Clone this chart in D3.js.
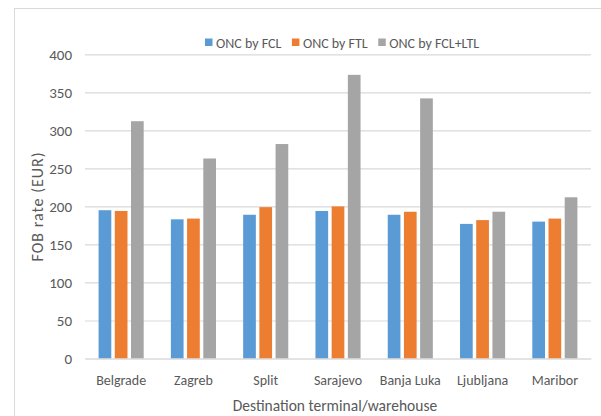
<!DOCTYPE html>
<html>
<head>
<meta charset="utf-8">
<script src="https://cdn.jsdelivr.net/npm/d3@7"></script>
<style>
  html, body { margin: 0; padding: 0; background: #fff; }
  svg { display: block; }
  text { font-family: Carlito, Lato, "Open Sans", sans-serif; fill: #595959; }
</style>
</head>
<body>
<svg id="chart" width="601" height="416"></svg>
<script>
// Destinations along the x axis
const categories = ["Belgrade", "Zagreb", "Split", "Sarajevo", "Banja Luka", "Ljubljana", "Maribor"];
// Series names shown in the legend
const seriesNames = ["ONC by FCL", "ONC by FTL", "ONC by FCL+LTL"];
// FOB rate (EUR) per destination for each series
const fcl    = [195, 183, 189, 194, 189, 177, 180];
const ftl    = [194, 184, 199, 200, 193, 182, 184];
const fclLtl = [312, 263, 282, 373, 342, 193, 212];
const yTicks = [0, 50, 100, 150, 200, 250, 300, 350, 400];
const colors = ["#5b9bd5", "#ed7d31", "#a5a5a5"];

const FONT = 'Carlito, Lato, "Open Sans", sans-serif';

const seriesValues = [fcl, ftl, fclLtl];
const rows = categories.map((c, i) => ({
  category: c,
  values: seriesNames.map((s, k) => ({ series: s, value: seriesValues[k][i], color: colors[k] }))
}));

const svg = d3.select("#chart");

// Chart area frame
svg.append("rect")
  .attr("x", 14.5).attr("y", 8.5)
  .attr("width", 620).attr("height", 430)
  .attr("fill", "none").attr("stroke", "#d9d9d9").attr("stroke-width", 1);

const plot = { left: 85, right: 591, top: 54.3, bottom: 358.5 };

const x0 = d3.scaleBand().domain(categories)
  .range([plot.left, plot.right]).paddingInner(0.376).paddingOuter(0.188);
const x1 = d3.scaleBand().domain(seriesNames)
  .range([0, x0.bandwidth()]).paddingInner(0.216).paddingOuter(0);
const y = d3.scaleLinear().domain([0, 400]).range([plot.bottom, plot.top]);

// Horizontal gridlines and value labels
const yAxis = d3.axisLeft(y).tickValues(yTicks)
  .tickSize(-(plot.right - plot.left)).tickPadding(13).tickFormat(d3.format("d"));
const gy = svg.append("g").attr("transform", `translate(${plot.left},0)`).call(yAxis);
gy.select(".domain").remove();
gy.selectAll(".tick line").attr("stroke", "#d9d9d9").attr("stroke-width", 1.2);
gy.selectAll(".tick text").attr("font-size", 15).attr("fill", "#595959")
  .style("font-family", FONT);

// Bars
const groups = svg.append("g").selectAll("g").data(rows).join("g")
  .attr("transform", d => `translate(${x0(d.category)},0)`);
groups.selectAll("rect").data(d => d.values).join("rect")
  .attr("x", d => x1(d.series))
  .attr("width", x1.bandwidth())
  .attr("y", d => y(d.value))
  .attr("height", d => y(0) - y(d.value))
  .attr("fill", d => d.color);

// Category axis
const xAxis = d3.axisBottom(x0).tickSize(0).tickPadding(17);
const gx = svg.append("g").attr("transform", `translate(0,${plot.bottom})`).call(xAxis);
gx.select(".domain").attr("stroke", "#d9d9d9").attr("stroke-width", 1.2);
gx.selectAll(".tick text").attr("font-size", 14).attr("fill", "#595959")
  .style("font-family", FONT);

// Axis titles
svg.append("text")
  .attr("x", (plot.left + plot.right) / 2 - 3).attr("y", 411)
  .attr("text-anchor", "middle").attr("font-size", 15.5)
  .text("Destination terminal/warehouse");

svg.append("text")
  .attr("transform", `translate(43,${(plot.top + plot.bottom) / 2}) rotate(-90)`)
  .attr("text-anchor", "middle").attr("font-size", 16)
  .attr("letter-spacing", 1)
  .text("FOB rate (EUR)");

// Legend
const legend = svg.append("g");
let lx = 205;
seriesNames.forEach((name, k) => {
  legend.append("rect").attr("x", lx).attr("y", 38.5)
    .attr("width", 7.5).attr("height", 7.5).attr("fill", colors[k]);
  const t = legend.append("text").attr("x", lx + 11).attr("y", 47.5)
    .attr("font-size", 14).text(name);
  lx += 11 + t.node().getComputedTextLength() + 10.5;
});
</script>
</body>
</html>
